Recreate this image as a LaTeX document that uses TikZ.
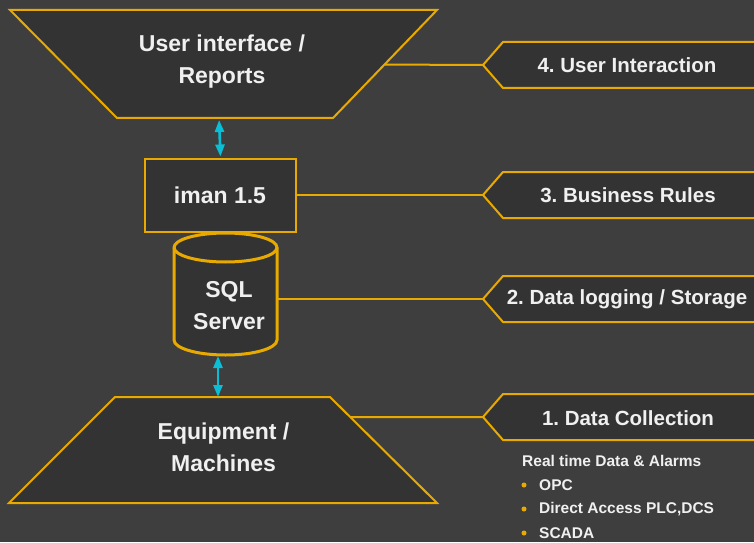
\documentclass[tikz,border=0pt]{standalone}
\usepackage{fontspec}
\setmainfont{Liberation Sans}
\usetikzlibrary{arrows.meta,calc}
\definecolor{bgcol}{RGB}{62,62,62}
\definecolor{shapefill}{RGB}{51,51,51}
\definecolor{gold}{RGB}{232,170,0}
\definecolor{cyanar}{RGB}{10,190,214}
\definecolor{txt}{RGB}{240,240,240}
\frenchspacing
\begin{document}
\begin{tikzpicture}[x=1pt,y=1pt,
  goldline/.style={draw=gold, line width=2pt, line join=miter},
  shapebox/.style={goldline, fill=shapefill},
  maintext/.style={text=txt, font=\bfseries\fontsize{23}{32}\selectfont, align=center, inner sep=0},
  labeltext/.style={text=txt, font=\bfseries\fontsize{20.5}{24}\selectfont, inner sep=0},
  smalltext/.style={text=txt, font=\bfseries\fontsize{15.5}{18}\selectfont, inner sep=0, anchor=west},
  link/.style={goldline},
  dbl/.style={draw=cyanar, line width=2.6pt, {Triangle[width=9pt,length=12pt]}-{Triangle[width=9pt,length=12pt]}},
  bulletdot/.style={circle, fill=gold, inner sep=0, minimum size=5pt}
]
\fill[bgcol] (0,0) rectangle (754,542);
\useasboundingbox (0,0) rectangle (754,542);
\clip (0,0) rectangle (754,542);

% ---- top trapezoid
\coordinate (uiTL) at (10,532);
\coordinate (uiTR) at (437,532);
\coordinate (uiBR) at (333,424);
\coordinate (uiBL) at (117,424);
\draw[shapebox] (uiTL) -- (uiTR) -- (uiBR) -- (uiBL) -- cycle;
\node[maintext] (ui) at (222,480.5) {User interface /\\Reports};
\coordinate (uiR) at ($(uiTR)!0.505!(uiBR)$);
\coordinate (uiB) at (219,424);

% ---- iman box
\node[shapebox, minimum width=151pt, minimum height=73pt, inner sep=0] (iman) at (220.5,346.5) {};
\node[maintext] (imantext) at (220,347) {iman 1.5};

% ---- cylinder
\draw[goldline, line width=3pt, fill=shapefill] (174,294.5) -- (174,202)
  arc[start angle=180, end angle=360, x radius=51.5, y radius=15] -- (277,294.5)
  arc[start angle=0, end angle=180, x radius=51.5, y radius=14.5] -- cycle;
\draw[goldline, line width=3pt] (174,294.5) arc[start angle=180, end angle=360, x radius=51.5, y radius=14.5];
\node[maintext] (sql) at (229,236) {SQL\\Server};
\coordinate (cylBot) at (218,187);
\coordinate (cylE) at (277,243);

% ---- bottom trapezoid
\coordinate (eqTL) at (115,145);
\coordinate (eqTR) at (330,145);
\coordinate (eqBR) at (437,39);
\coordinate (eqBL) at (9,39);
\draw[shapebox] (eqTL) -- (eqTR) -- (eqBR) -- (eqBL) -- cycle;
\node[maintext] (eq) at (223.5,94.5) {Equipment /\\Machines};
\coordinate (eqR) at ($(eqTR)!0.1887!(eqBR)$);
\coordinate (eqT) at (218,145);

% ---- label boxes
\coordinate (l4) at (483,477);
\coordinate (l3) at (483,347);
\coordinate (l2) at (483,243);
\coordinate (l1) at (483,125);
\foreach \c in {l4,l3,l2,l1}{
  \draw[shapebox] (\c) -- ++(20,23) -- ++(300,0) -- ++(0,-46) -- ++(-300,0) -- cycle;
}
\node[labeltext] (t4) at (627,477) {4. User Interaction};
\node[labeltext] (t3) at (628,347) {3. Business Rules};
\node[labeltext] (t2) at (627,243) {2. Data logging / Storage};
\node[labeltext] (t1) at (628,124) {1. Data Collection};

% ---- connectors
\draw[link] (uiR) -- (l4);
\draw[link] (iman.east |- l3) -- (l3);
\draw[link] (cylE) -- (l2);
\draw[link] (eqR) -- (l1);
\draw[dbl, shorten <=2pt, shorten >=1.5pt] (uiB) -- (iman.north);
\draw[dbl, shorten <=1pt] (cylBot) -- (eqT);

% ---- details list
\node[smalltext] (rt) at (522,81) {Real time Data \& Alarms};
\node[bulletdot] (b1) at (524,57) {};
\node[bulletdot] (b2) at (524,33) {};
\node[bulletdot] (b3) at (524,9) {};
\node[smalltext] (opc) at (539,57) {OPC};
\node[smalltext] (plc) at (539,33) {Direct Access PLC,DCS};
\node[smalltext] (scada) at (539,9) {SCADA};
\end{tikzpicture}
\end{document}
